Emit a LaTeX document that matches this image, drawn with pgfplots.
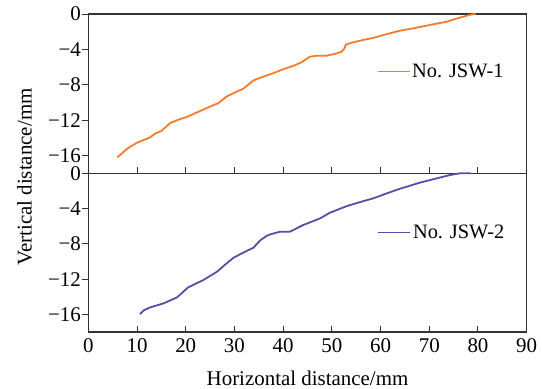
\documentclass[border=0pt]{standalone}
\usepackage{pgfplots}
\pgfplotsset{compat=1.18}
\usepackage{fontspec}
\setmainfont{Liberation Serif}
\definecolor{orgc}{HTML}{F37B2B}
\definecolor{purc}{HTML}{5B4AA6}
\definecolor{axc}{HTML}{333333}
\begin{document}
\begin{tikzpicture}[font=\fontsize{21}{25}\selectfont]
\useasboundingbox (0,0) rectangle (542bp,-389bp);
\pgfplotsset{
  panel/.style={
    scale only axis, width=438.4bp,
    xmin=0, xmax=90, ymin=-18, ymax=0,
    /pgf/number format/assume math mode=true,
    axis line style={axc, line width=1.2bp},
    xtick={0,10,...,90},
    ytick={-16,-12,-8,-4,0}, yticklabels={−16,−12,−8,−4,0},
    xtick pos=bottom, ytick pos=left,
    tick align=inside,
    major tick length=6bp,
    tick style={axc, line width=1bp},
    y tick style={xshift=-6bp},
    tick label style={font=\fontsize{21}{25}\selectfont},
    yticklabel style={inner xsep=1.3bp, xshift=-6bp},
    xticklabel style={yshift=-3bp},
    legend style={draw=none, fill=none, inner sep=0pt, anchor=west, font=\fontsize{20.5}{24}\selectfont},
    legend image code/.code={\draw[#1, line width=1.2bp] (0bp,0bp) -- (32bp,0bp);},
    clip=false,
  }
}
\begin{axis}[panel, at={(88.3bp,-173.3bp)}, anchor=south west, height=159.3bp,
  xticklabels={}, legend style={at={(0.658,0.638)}}]
\addplot[orgc, line width=1.8bp, line join=round] coordinates {
(5.96,-16.2)(7.0,-15.7)(7.9,-15.25)(9.9,-14.57)(12.7,-13.94)(13.7,-13.52)(15.1,-13.18)
(16.8,-12.32)(18.5,-11.94)(20.2,-11.64)(22.3,-11.12)(24.3,-10.63)(26.7,-10.07)(28.4,-9.32)
(30.1,-8.87)(31.8,-8.45)(33.9,-7.51)(35.3,-7.20)(38.0,-6.68)(40.0,-6.24)(42.1,-5.86)
(43.8,-5.45)(45.5,-4.82)(46.9,-4.72)(49.0,-4.70)(51.0,-4.45)(52.0,-4.25)(52.5,-3.95)
(52.9,-3.45)(54.4,-3.19)(56.5,-2.93)(58.5,-2.70)(60.6,-2.37)(64.0,-1.88)(66.7,-1.62)
(70.0,-1.25)(73.6,-0.87)(76.0,-0.45)(78.7,-0.05)(79.5,0)
};
\addlegendentry{No. JSW-1}
\end{axis}
\begin{axis}[panel, at={(88.3bp,-332bp)}, anchor=south west, height=158.7bp,
  legend style={at={(0.66,0.628)}}]
\addplot[purc, line width=1.8bp, line join=round] coordinates {
(10.6,-15.97)(11.5,-15.5)(12.7,-15.21)(15.4,-14.76)(18.2,-14.08)(20.5,-12.94)(23.6,-12.11)
(26.4,-11.17)(28.0,-10.4)(29.8,-9.58)(31.8,-9.0)(33.9,-8.44)(35.3,-7.6)(36.6,-7.1)(37.5,-6.9)
(39.4,-6.62)(41.4,-6.62)(44.1,-5.87)(47.6,-5.11)(49.6,-4.47)(53.1,-3.71)(55.8,-3.26)
(58.5,-2.84)(61.3,-2.27)(64.0,-1.75)(68.0,-1.07)(70.2,-0.76)(74.3,-0.19)(76.3,0)(78.5,0)
};
\addlegendentry{No. JSW-2}
\end{axis}
\node[rotate=90, anchor=base] at (31.7bp,-177bp) {Vertical distance/mm};
\node[anchor=base] at (307.5bp,-385bp) {Horizontal distance/mm};
\end{tikzpicture}
\end{document}
